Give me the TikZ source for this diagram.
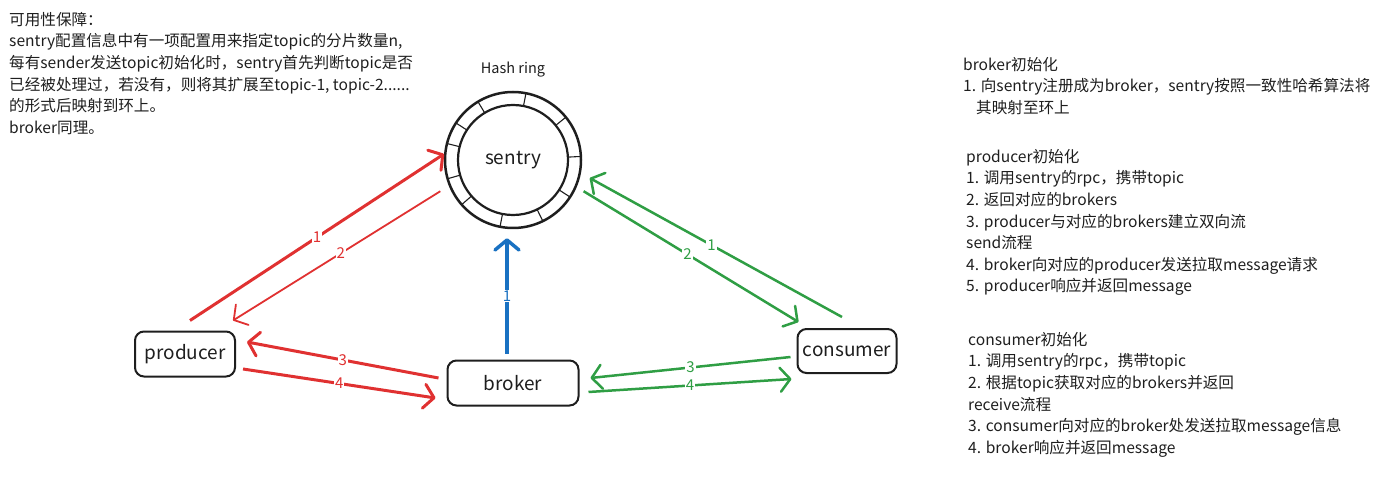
\documentclass[tikz,border=0pt]{standalone}
\usepackage{fontspec}
\setmainfont{Noto Sans CJK SC}
\usetikzlibrary{arrows.meta}
\definecolor{xred}{HTML}{E03131}
\definecolor{xgreen}{HTML}{2F9E44}
\definecolor{xblue}{HTML}{1971C2}
\definecolor{ink}{HTML}{1E1E1E}
\begin{document}
\begin{tikzpicture}[x=1pt,y=-1pt,
	box/.style={draw=ink,line width=2pt,rounded corners=9pt,inner sep=0pt,text=ink,font=\fontsize{19}{19}\selectfont},
	arr/.style={color=#1,-{Straight Barb[length=10pt,width=24pt,round]}},
	num/.style={fill=white,inner sep=1pt,font=\fontsize{15}{15}\selectfont},
	note/.style={align=left,anchor=north west,inner sep=0pt,text=ink,font=\fontsize{15.6}{21.6}\selectfont}]
	\useasboundingbox (0,0) rectangle (1385,489);

	\node (ring) [circle,draw=ink,line width=2.5pt,minimum size=136pt] at (513,160) {};
	\node (sentry) [circle,draw=ink,line width=2.2pt,minimum size=110pt,text=ink,font=\fontsize{19}{19}\selectfont] at (513,160) {sentry};
	\foreach \a in {101,64,33,-3,-39,-79,-121,-147,-166,164,139}
		\draw[ink,line width=1.1pt] (513,160) ++(\a:55) -- ++(\a:13);
	\node (hash) [text=ink,font=\fontsize{14.5}{14.5}\selectfont] at (513,70) {Hash ring};

	\node (prod) [box,minimum width=100pt,minimum height=45pt] at (185,354) {producer};
	\node (brk) [box,minimum width=131pt,minimum height=45pt] at (513,383) {broker};
	\node (cons) [box,minimum width=99pt,minimum height=44pt] at (847,351) {consumer};

	\draw[arr=xred,line width=3pt] ([xshift=5pt,yshift=10pt]prod.north) -- (ring.175) node[num,pos=.5]{1};
	\draw[arr=xred,line width=1.8pt,shorten <=10pt] (ring.202) -- ([xshift=-3pt,yshift=10pt]prod.north east) node[num,pos=.5]{2};
	\draw[arr=xred,line width=3pt] ([xshift=-8pt,yshift=5pt]brk.west) -- ([xshift=11pt,yshift=12pt]prod.east) node[num,pos=.5]{3};
	\draw[arr=xred,line width=3pt] ([xshift=7pt,yshift=-15pt]prod.east) -- ([xshift=-11pt,yshift=-15pt]brk.west) node[num,pos=.5]{4};

	\draw[arr=xblue,line width=3.5pt] ([xshift=-6pt,yshift=6pt]brk.north) -- ([xshift=-6pt,yshift=-9pt]ring.south) node[num,pos=.5]{1};

	\draw[arr=xgreen,line width=2.5pt,shorten >=10pt] ([xshift=-5pt,yshift=11pt]cons.north) -- (ring.-11) node[num,pos=.5]{1};
	\draw[arr=xgreen,line width=2.5pt,shorten <=8pt] (ring.-23) -- ([xshift=2pt,yshift=6pt]cons.north west) node[num,pos=.5]{2};
	\draw[arr=xgreen,line width=2.5pt] ([xshift=-6pt,yshift=-6pt]cons.west) -- ([xshift=11pt,yshift=5pt]brk.east) node[num,pos=.5]{3};
	\draw[arr=xgreen,line width=2.5pt] ([xshift=9pt,yshift=-9pt]brk.east) -- ([xshift=-5pt,yshift=-5pt]cons.south west) node[num,pos=.5]{4};

	\node (avail) [note] at (9,12) {可用性保障：\\
		sentry配置信息中有一项配置用来指定topic的分片数量n,\\
		每有sender发送topic初始化时，sentry首先判断topic是否\\
		已经被处理过，若没有，则将其扩展至topic-1, topic-2......\\
		的形式后映射到环上。\\
		broker同理。};
	\node (brkinit) [note] at (963,57) {broker初始化\\
		1. 向sentry注册成为broker，sentry按照一致性哈希算法将\\
		\hspace*{13pt}其映射至环上};
	\node (prodinit) [note] at (966,149) {producer初始化\\
		1. 调用sentry的rpc，携带topic\\
		2. 返回对应的brokers\\
		3. producer与对应的brokers建立双向流\\
		send流程\\
		4. broker向对应的producer发送拉取message请求\\
		5. producer响应并返回message};
	\node (consinit) [note] at (968,332) {consumer初始化\\
		1. 调用sentry的rpc，携带topic\\
		2. 根据topic获取对应的brokers并返回\\
		receive流程\\
		3. consumer向对应的broker处发送拉取message信息\\
		4. broker响应并返回message};
\end{tikzpicture}
\end{document}
